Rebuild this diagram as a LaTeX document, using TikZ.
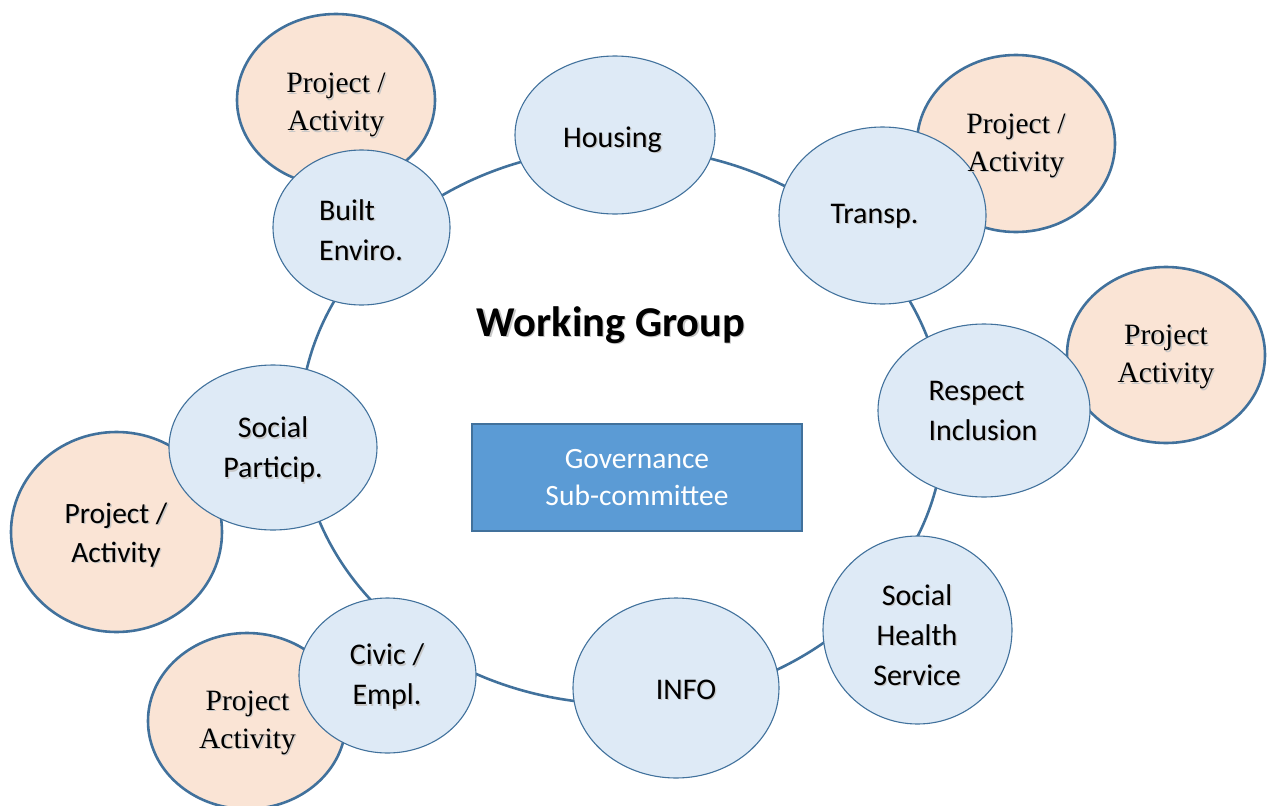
\documentclass[tikz,border=0pt]{standalone}
\usepackage{fontspec}
\setmainfont{Liberation Serif}
\newfontfamily\calib{Carlito}
\usetikzlibrary{shapes.geometric}
\definecolor{edgeblue}{HTML}{41719C}
\definecolor{bluefill}{HTML}{DEEAF6}
\definecolor{orfill}{HTML}{FAE4D5}
\definecolor{govfill}{HTML}{5B9BD5}
\newcommand\shd[1]{\makebox[0pt][l]{\kern1.3pt\raisebox{-1.3pt}{\textcolor{black!22}{#1}}}#1}
\tikzset{
  ringline/.style={ellipse, draw=edgeblue, line width=2.6pt, inner sep=0pt},
  pabubble/.style={ellipse, draw=edgeblue, fill=orfill, line width=2.6pt, inner sep=0pt},
  topic/.style={ellipse, draw=edgeblue, fill=bluefill, line width=1.1pt, inner sep=0pt},
  toptext/.style={font=\calib\fontsize{30}{40}\selectfont, align=center, inner sep=0pt, yshift=-3pt},
  patext/.style={font=\fontsize{29.5}{38}\selectfont, align=center, inner sep=0pt, yshift=-3pt},
  pasans/.style={font=\calib\fontsize{29.5}{39}\selectfont, align=center, inner sep=0pt, yshift=-3pt},
  govbox/.style={rectangle, draw=edgeblue, fill=govfill, line width=1.6pt, inner sep=0pt,
     text=white, font=\calib\fontsize{29.5}{37}\selectfont, align=center},
  wgtext/.style={font=\calib\bfseries\fontsize{42.5}{48}\selectfont, inner sep=0pt}
}
\begin{document}
\begin{tikzpicture}[x=1pt,y=-1pt]
\useasboundingbox (0,0) rectangle (1270,806);
% ring
\node[ringline, minimum width=644pt, minimum height=556pt] (ring) at (622,426) {};
% project / activity bubbles
\node[pabubble, minimum width=198pt, minimum height=172pt] (pa1) at (336,100) {};
\node[pabubble, minimum width=198pt, minimum height=177pt] (pa2) at (1016,143.5) {};
\node[pabubble, minimum width=198pt, minimum height=176pt] (pa3) at (1166,355) {};
\node[pabubble, minimum width=211pt, minimum height=200pt] (pa4) at (116.5,532) {};
\node[pabubble, minimum width=198pt, minimum height=176pt] (pa5) at (247,721) {};
% topic bubbles
\node[topic, minimum width=200pt, minimum height=158pt] (housing) at (615,135) {};
\node[topic, minimum width=207pt, minimum height=177pt] (transp) at (882.5,215.5) {};
\node[topic, minimum width=212pt, minimum height=173pt] (respect) at (984,410.5) {};
\node[topic, minimum width=189pt, minimum height=188pt] (health) at (917.5,630) {};
\node[topic, minimum width=206pt, minimum height=180pt] (info) at (676,688) {};
\node[topic, minimum width=177pt, minimum height=155pt] (civic) at (387.5,675.5) {};
\node[topic, minimum width=208pt, minimum height=165pt] (partic) at (273,447.5) {};
\node[topic, minimum width=177pt, minimum height=155pt] (built) at (361.5,227.5) {};
% texts of topics
\node[toptext] (housingT) at (612.5,137.5) {\shd{Housing}};
\node[toptext] (transpT) at (874.5,213.5) {\shd{Transp.}};
\node[toptext, align=left] (respectT) at (983,408.5) {\shd{Respect}\\\shd{Inclusion}};
\node[toptext] (healthT) at (917,632.5) {\shd{Social}\\\shd{Health}\\\shd{Service}};
\node[toptext] (infoT) at (686,687.5) {\shd{INFO}};
\node[toptext] (civicT) at (387,674.5) {\shd{Civic /}\\\shd{Empl.}};
\node[toptext] (particT) at (273,447.5) {\shd{Social}\\\shd{Particip.}};
\node[toptext, align=left] (builtT) at (361,227.5) {\shd{Built}\\\shd{Enviro.}};
% texts of project bubbles
\node[patext] (pa1T) at (336,103) {\shd{Project /}\\\shd{Activity}};
\node[patext] (pa2T) at (1016,143.5) {\shd{Project /}\\\shd{Activity}};
\node[patext] (pa3T) at (1166,355) {\shd{Project}\\\shd{Activity}};
\node[pasans] (pa4T) at (116,532.5) {\shd{Project /}\\\shd{Activity}};
\node[patext] (pa5T) at (247.5,720.5) {\shd{Project}\\\shd{Activity}};
% centre
\node[wgtext] (wg) at (611,326) {\shd{Working Group}};
\node[govbox, minimum width=330pt, minimum height=107pt] (gov) at (637,477.5) {Governance\\Sub-committee};
\end{tikzpicture}
\end{document}
